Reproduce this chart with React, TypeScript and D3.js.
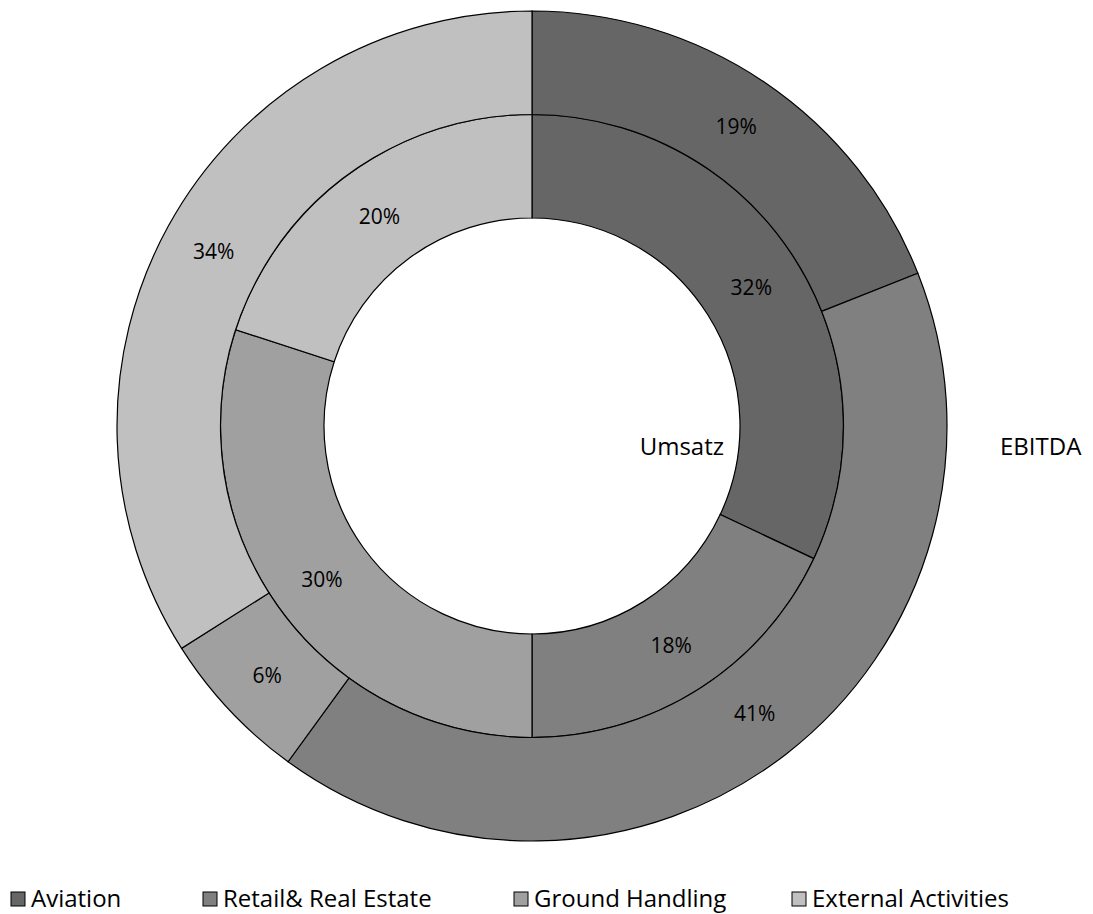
import React from "react";
import * as d3 from "d3";

const categories = ["Aviation", "Retail& Real Estate", "Ground Handling", "External Activities"];
const umsatzValues = [32, 18, 30, 20];
const ebitdaValues = [19, 41, 6, 34];
const seriesNames = ["Umsatz", "EBITDA"];
const colors = ["#666666", "#808080", "#A0A0A0", "#C0C0C0"];

const W = 1093;
const H = 914;
const cx = 532;
const cy = 426;
const rHole = 208;
const rMid = 311.5;
const rOuter = 415;
const legendX = [11, 203, 514, 792];
const FONT = "'Open Sans', 'Liberation Sans', sans-serif";

export default function App() {
  const pie = d3
    .pie<number>()
    .sort(null)
    .value((d) => d)
    .startAngle(0)
    .endAngle(2 * Math.PI);

  const rings = [
    { name: seriesNames[0], values: umsatzValues, inner: rHole, outer: rMid },
    { name: seriesNames[1], values: ebitdaValues, inner: rMid, outer: rOuter },
  ];

  return (
    <svg
      width={W}
      height={H}
      style={{ position: "absolute", left: 0, top: 0, background: "#fff" }}
      fontFamily={FONT}
    >
      <g transform={`translate(${cx},${cy})`}>
        {rings.map((ring, ri) => {
          const arc = d3.arc<d3.PieArcDatum<number>>().innerRadius(ring.inner).outerRadius(ring.outer);
          const total = d3.sum(ring.values);
          return (
            <g key={ri}>
              {pie(ring.values).map((d, i) => (
                <path key={i} d={arc(d) || ""} fill={colors[i]} stroke="#000" strokeWidth={1.2} />
              ))}
              {pie(ring.values).map((d, i) => {
                const [x, y] = arc.centroid(d);
                return (
                  <text
                    key={"t" + i}
                    x={x}
                    y={y}
                    textAnchor="middle"
                    dominantBaseline="central"
                    fontSize={21}
                    fill="#000"
                  >
                    {Math.round((d.data / total) * 100)}%
                  </text>
                );
              })}
            </g>
          );
        })}
        <text x={rHole - 16} y={29} textAnchor="end" fontSize={24} fill="#000">
          {seriesNames[0]}
        </text>
        <text x={rOuter + 53} y={29} textAnchor="start" fontSize={24} fill="#000">
          {seriesNames[1]}
        </text>
      </g>
      <g>
        {categories.map((c, i) => (
          <g key={c}>
            <rect x={legendX[i]} y={892} width={14} height={14} fill={colors[i]} stroke="#000" strokeWidth={1} />
            <text x={legendX[i] + 20} y={907} fontSize={24} fill="#000">
              {c}
            </text>
          </g>
        ))}
      </g>
    </svg>
  );
}
